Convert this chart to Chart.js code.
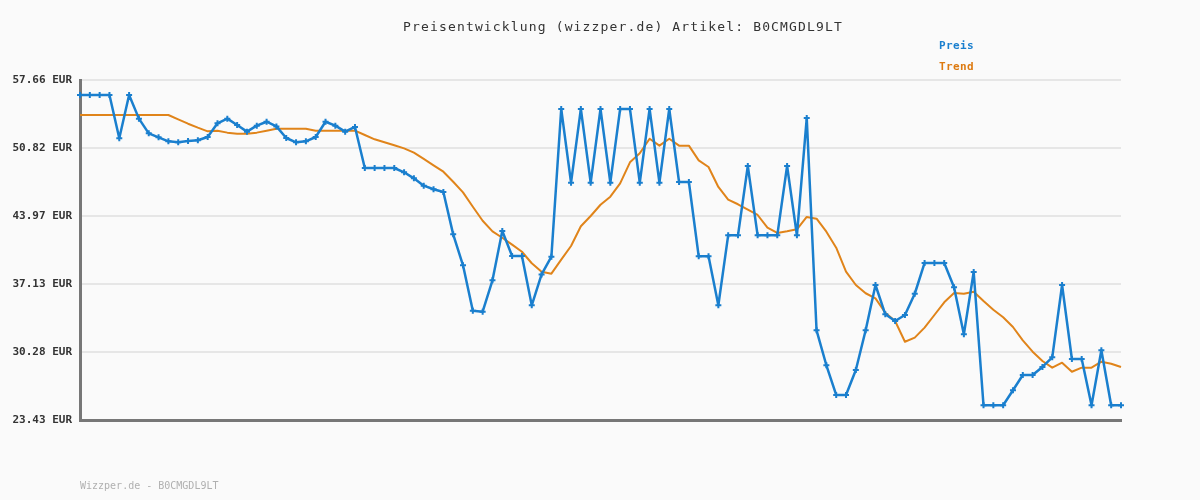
<!DOCTYPE html>
<html>
<head>
<meta charset="utf-8">
<script src="https://cdn.jsdelivr.net/npm/chart.js"></script>
<style>
  html, body { margin: 0; padding: 0; background: #fafafa; }
  #wrap { position: relative; width: 1200px; height: 500px; }
  #titel {
    position: absolute; left: 0; width: 1246px; top: 19px; text-align: center;
    font: 13px "DejaVu Sans Mono", monospace; letter-spacing: 1.15px; color: #333;
  }
  .leg {
    position: absolute; left: 939px; font: bold 11px "DejaVu Sans Mono", monospace;
    letter-spacing: 0.4px;
  }
  #fuss {
    position: absolute; left: 80px; top: 480px;
    font: 10px "DejaVu Sans Mono", monospace; color: #b0b0b0;
  }
</style>
</head>
<body>
<div id="wrap">
  <canvas id="preisChart" width="1200" height="500"></canvas>
  <div id="titel">Preisentwicklung (wizzper.de) Artikel: B0CMGDL9LT</div>
  <div class="leg" style="top:39px;color:#1a7fce">Preis</div>
  <div class="leg" style="top:60px;color:#dd7a10">Trend</div>
  <div id="fuss">Wizzper.de - B0CMGDL9LT</div>
</div>
<script>
/* ===================== DATEN ===================== */
const preis = [
  56.15, 56.15, 56.15, 56.15, 51.79, 56.15, 53.77, 52.29, 51.89, 51.49,
  51.39, 51.52, 51.59, 51.92, 53.30, 53.77, 53.13, 52.46, 53.06, 53.46,
  52.99, 51.82, 51.39, 51.49, 51.92, 53.46, 53.06, 52.46, 52.93, 48.80,
  48.80, 48.80, 48.80, 48.37, 47.76, 47.02, 46.66, 46.38, 42.12, 39.00,
  34.43, 34.33, 37.49, 42.46, 39.94, 39.94, 34.98, 38.09, 39.87, 54.74,
  47.32, 54.74, 47.32, 54.74, 47.32, 54.74, 54.74, 47.32, 54.74, 47.32,
  54.74, 47.39, 47.39, 39.91, 39.91, 34.98, 42.02, 42.02, 49.00, 42.02,
  42.02, 42.02, 49.00, 42.02, 53.83, 32.46, 28.94, 25.95, 25.95, 28.46,
  32.46, 37.02, 34.07, 33.40, 34.00, 36.14, 39.24, 39.24, 39.24, 36.79,
  32.06, 38.33, 24.91, 24.91, 24.91, 26.42, 27.96, 27.96, 28.77, 29.74,
  37.02, 29.57, 29.57, 24.91, 30.45, 24.91, 24.91,
];

const trend = [
  54.14, 54.14, 54.14, 54.14, 54.14, 54.14, 54.14, 54.14, 54.14, 54.14,
  53.70, 53.26, 52.86, 52.49, 52.56, 52.36, 52.26, 52.26, 52.36, 52.56,
  52.76, 52.76, 52.76, 52.76, 52.56, 52.56, 52.56, 52.56, 52.56, 52.12,
  51.69, 51.39, 51.09, 50.78, 50.34, 49.71, 49.07, 48.43, 47.42, 46.35,
  44.90, 43.49, 42.42, 41.78, 41.08, 40.37, 39.21, 38.36, 38.16, 39.57,
  40.95, 42.93, 43.97, 45.10, 45.91, 47.26, 49.37, 50.28, 51.75, 51.05,
  51.75, 51.05, 51.05, 49.57, 48.90, 46.89, 45.61, 45.15, 44.61, 44.07,
  42.79, 42.26, 42.43, 42.63, 43.87, 43.70, 42.39, 40.78, 38.36, 37.02,
  36.19, 35.68, 34.23, 33.40, 31.31, 31.72, 32.73, 34.00, 35.28, 36.22,
  36.15, 36.35, 35.41, 34.53, 33.77, 32.79, 31.45, 30.31, 29.37, 28.70,
  29.20, 28.29, 28.70, 28.70, 29.30, 29.10, 28.77,
];

const yTicks = [23.43, 30.28, 37.13, 43.97, 50.82, 57.66];
const labels = preis.map((_, i) => i + 1);

/* ===================== CHART ===================== */
new Chart(document.getElementById("preisChart"), {
  type: "line",
  data: {
    labels: labels,
    datasets: [
      {
        label: "Preis",
        data: preis,
        borderColor: "#1a7fce",
        backgroundColor: "#1a7fce",
        borderWidth: 2.5,
        borderJoinStyle: "round",
        pointStyle: "cross",
        pointRadius: 3,
        pointBorderWidth: 2,
        tension: 0,
        order: 1,
      },
      {
        label: "Trend",
        data: trend,
        borderColor: "#e0841a",
        borderWidth: 2,
        borderJoinStyle: "round",
        pointRadius: 0,
        tension: 0,
        order: 2,
      },
    ],
  },
  options: {
    responsive: false,
    animation: false,
    layout: { padding: { left: 0, right: 79, top: 80, bottom: 80 } },
    plugins: { legend: { display: false }, tooltip: { enabled: false } },
    scales: {
      x: {
        offset: false,
        grid: { display: false, drawTicks: false },
        ticks: { display: false },
        border: { display: true, color: "#777", width: 3 },
        afterFit: (s) => { s.height = 0; },
      },
      y: {
        min: yTicks[0],
        max: yTicks[yTicks.length - 1],
        afterBuildTicks: (s) => { s.ticks = yTicks.map((v) => ({ value: v })); },
        afterFit: (s) => { s.width = 80; },
        grid: { color: "#e6e6e6", lineWidth: 2, drawTicks: false },
        border: { display: true, color: "#777", width: 3 },
        ticks: {
          padding: 8,
          color: "#333",
          font: { family: "DejaVu Sans Mono", size: 11, weight: "bold" },
          callback: (v) => v.toFixed(2) + " EUR",
        },
      },
    },
  },
});
</script>
</body>
</html>
